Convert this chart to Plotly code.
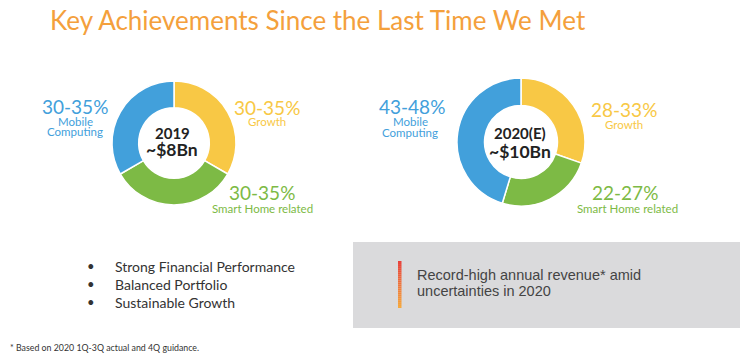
import plotly.graph_objects as go

W, H = 740, 364

# ---- data ----
segments = ["Growth", "Smart Home related", "Mobile Computing"]
values_2019 = [32.5, 32.5, 32.5]
values_2020 = [30.5, 24.5, 45.5]
labels_2019 = ["30-35%", "30-35%", "30-35%"]
labels_2020 = ["28-33%", "22-27%", "43-48%"]
centre_2019 = ["2019", "~$8Bn"]
centre_2020 = ["2020(E)", "~$10Bn"]
bullets = ["Strong Financial Performance", "Balanced Portfolio", "Sustainable Growth"]
title = "Key Achievements Since the Last Time We Met"
box_text = ["Record-high annual revenue* amid", "uncertainties in 2020"]
footnote = "* Based on 2020 1Q-3Q actual and 4Q guidance."

colors = ["#F8C845", "#7DBA45", "#42A0DB"]
ORANGE = "#F4A03C"
FONT = "Lato"


def px(x):
    return x / W


def py(y):
    return 1 - y / H


def donut(values, cx, cy, r):
    return go.Pie(
        labels=segments, values=values, sort=False, direction="clockwise",
        rotation=0, hole=0.57, textinfo="none", hoverinfo="label+percent",
        marker=dict(colors=colors, line=dict(color="white", width=1.5)),
        domain=dict(x=[px(cx - r), px(cx + r)], y=[py(cy + r), py(cy - r)]),
        showlegend=False,
    )


fig = go.Figure()
fig.add_trace(donut(values_2019, 174, 143, 62))
fig.add_trace(donut(values_2020, 521, 142, 64))

ann = []


def text(x, y, s, size, color, bold=False, anchor="center", family=FONT):
    ann.append(dict(
        x=px(x), y=py(y), xref="paper", yref="paper", text=f"<b>{s}</b>" if bold else s,
        showarrow=False, xanchor=anchor, yanchor="middle", borderpad=0,
        font=dict(size=size, color=color, family=family),
    ))


# title
text(49, 20, title, 26, ORANGE, anchor="left")

# donut 1 labels (order: Growth, Smart Home, Mobile)
text(267, 107, labels_2019[0], 19, colors[0])
text(267, 122, segments[0], 11.5, colors[0])
text(262, 192, labels_2019[1], 19, colors[1])
text(262, 208, segments[1], 11.5, colors[1])
text(75, 106, labels_2019[2], 19, colors[2])
text(75, 121.5, "Mobile", 11.5, colors[2])
text(75, 131.5, "Computing", 11.5, colors[2])
text(172, 133, centre_2019[0], 15, "#222222", bold=True)
text(172, 149, centre_2019[1], 17.5, "#222222", bold=True)

# donut 2 labels
text(624, 109, labels_2020[0], 19, colors[0])
text(624, 124, segments[0], 11.5, colors[0])
text(625, 192, labels_2020[1], 19, colors[1])
text(627, 208, segments[1], 11.5, colors[1])
text(412, 106, labels_2020[2], 19, colors[2])
text(410, 122, "Mobile", 11.5, colors[2])
text(410, 132, "Computing", 11.5, colors[2])
text(520, 133, centre_2020[0], 15, "#222222", bold=True)
text(520, 151, centre_2020[1], 17.5, "#222222", bold=True)

# bullets
for i, b in enumerate(bullets):
    y = 266 + i * 18
    text(86, y, "•", 13, "#333333", anchor="left")
    text(114, y, b, 14, "#333333", anchor="left")

# box text
text(416, 275, box_text[0], 14.5, "#444444", anchor="left", family="Liberation Sans")
text(416, 291, box_text[1], 14.5, "#444444", anchor="left", family="Liberation Sans")

# footnote
text(9, 347, footnote, 8.8, "#333333", anchor="left")

shapes = [dict(type="rect", xref="paper", yref="paper", x0=px(353), x1=px(740),
               y0=py(328), y1=py(242), fillcolor="#DADADC", line=dict(width=0), layer="below")]
# gradient bar (red top -> orange bottom)
n = 24
top, bot = 261, 308
c0, c1 = (232, 64, 58), (246, 168, 60)
for i in range(n):
    t = i / (n - 1)
    c = tuple(round(c0[k] + (c1[k] - c0[k]) * t) for k in range(3))
    y0 = top + (bot - top) * i / n
    y1 = top + (bot - top) * (i + 1) / n
    shapes.append(dict(type="rect", xref="paper", yref="paper", x0=px(398), x1=px(401.5),
                       y0=py(y1), y1=py(y0), fillcolor="rgb(%d,%d,%d)" % c, line=dict(width=0)))

fig.update_layout(
    width=W, height=H, margin=dict(l=0, r=0, t=0, b=0),
    paper_bgcolor="white", plot_bgcolor="white",
    annotations=ann, shapes=shapes,
)
fig.write_html(
    "out.html",
    config={"displayModeBar": False},
    post_script="document.body.style.margin='0';document.body.style.overflow='hidden';",
)
